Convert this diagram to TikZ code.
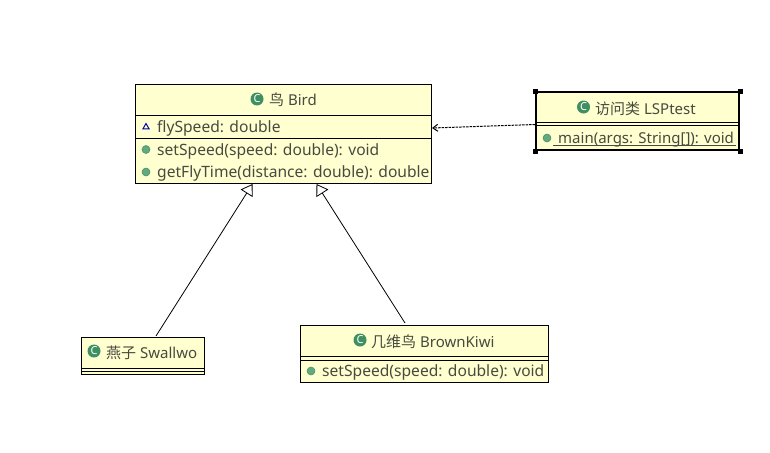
\documentclass[tikz,border=0pt]{standalone}
\usepackage{xcolor}
\usepackage{fontspec}
\setmainfont{Noto Sans}
\newfontfamily\cjk{Noto Sans CJK SC}
\usetikzlibrary{arrows.meta,shapes.geometric}
\definecolor{boxfill}{HTML}{FFFFD0}
\definecolor{textcol}{HTML}{474A3F}
\definecolor{iconcol}{HTML}{3F8F63}
\definecolor{dotcol}{HTML}{63A87E}
\tikzset{
  classbox/.style={draw, fill=boxfill, rectangle, inner sep=0pt, line width=1pt},
  titletext/.style={anchor=base west, inner sep=0pt, text=textcol, font=\fontsize{15}{17}\selectfont},
  membertext/.style={anchor=base west, inner sep=0pt, text=textcol, font=\fontsize{15.6}{17}\selectfont},
  classicon/.style={circle, fill=iconcol, inner sep=0pt, minimum size=13pt, text=white, font=\bfseries\fontsize{11}{11}\selectfont},
  methoddot/.style={circle, fill=dotcol, draw=iconcol, line width=0.5pt, inner sep=0pt, minimum size=8pt},
  fieldicon/.style={regular polygon, regular polygon sides=3, draw=blue!70!black, line width=1pt, inner sep=0pt, minimum size=7pt},
  handle/.style={fill=black, inner sep=0pt, minimum size=5pt},
  inherit/.style={-{Triangle[open, fill=white, length=11pt, width=14pt]}, line width=0.8pt},
  depend/.style={-{Straight Barb[length=5pt, width=7pt]}, dash pattern=on 2.5pt off 1pt, line width=1pt}
}
\begin{document}
\begin{tikzpicture}[x=1pt, y=-1pt]
    \useasboundingbox (0,0) rectangle (770,452);
    % class boxes
    \node[classbox, minimum width=296pt, minimum height=99pt] (bird) at (283.5,134) {};
    \node[classbox, minimum width=203pt, minimum height=58pt, line width=2pt] (lsptest) at (637.5,121) {};
    \node[classbox, minimum width=123pt, minimum height=37pt] (swallow) at (143,355.5) {};
    \node[classbox, minimum width=248pt, minimum height=57pt] (kiwi) at (424.5,354) {};
    % compartments
    \draw ([yshift=-31pt]bird.north west) -- ([yshift=-31pt]bird.north east);
    \draw ([yshift=-54pt]bird.north west) -- ([yshift=-54pt]bird.north east);
    \draw ([yshift=-31pt]lsptest.north west) -- ([yshift=-31pt]lsptest.north east);
    \draw ([yshift=-34.5pt]lsptest.north west) -- ([yshift=-34.5pt]lsptest.north east);
    \draw ([yshift=6.5pt]swallow.south west) -- ([yshift=6.5pt]swallow.south east);
    \draw ([yshift=3pt]swallow.south west) -- ([yshift=3pt]swallow.south east);
    \draw ([yshift=26.5pt]kiwi.south west) -- ([yshift=26.5pt]kiwi.south east);
    \draw ([yshift=23pt]kiwi.south west) -- ([yshift=23pt]kiwi.south east);
    % bird
    \node[classicon] (birdicon) at (257,99) {C};
    \node[titletext] (birdname) at (269,105.5) {{\cjk 鸟} Bird};
    \node[fieldicon] (flyicon) at (146,127) {};
    \node[membertext] (flyspeed) at (157,132) {flySpeed: double};
    \node[methoddot] (setdot) at (146,149.5) {};
    \node[membertext] (setspeed) at (157,155) {setSpeed(speed: double): void};
    \node[methoddot] (getdot) at (146,172) {};
    \node[membertext] (getfly) at (157,177.5) {getFlyTime(distance: double): double};
    % lsptest
    \node[classicon] (lspicon) at (583.5,107) {C};
    \node[titletext] (lspname) at (595,114) {{\cjk 访问类} LSPtest};
    \node[methoddot] (maindot) at (547,138) {};
    \node[titletext] (mainname) at (558,143) {main(args: String[]): void};
    \draw[textcol] (553,145.5) -- (736,145.5);
    \node[handle] (h1) at (lsptest.north west) {};
    \node[handle] (h2) at (lsptest.north east) {};
    \node[handle] (h3) at (lsptest.south west) {};
    \node[handle] (h4) at (lsptest.south east) {};
    % swallow
    \node[classicon] (swaicon) at (94,351) {C};
    \node[titletext] (swaname) at (106,358) {{\cjk 燕子} Swallwo};
    % kiwi
    \node[classicon] (kiwiicon) at (360,340) {C};
    \node[titletext] (kiwiname) at (371,347) {{\cjk 几维鸟} BrownKiwi};
    \node[methoddot] (kiwidot) at (311,371) {};
    \node[membertext] (kiwiset) at (322,376) {setSpeed(speed: double): void};
    % connectors
    \coordinate (swatop) at (156,336);
    \coordinate (kiwitop) at (405,323);
    \coordinate (birdleft) at (252.5,184);
    \coordinate (birdright) at (316.5,184);
    \coordinate (birdside) at (432,128);
    \coordinate (lspside) at (535,124.5);
    \draw[inherit] (swatop) -- (birdleft);
    \draw[inherit] (kiwitop) -- (birdright);
    \draw[depend] (lspside) -- (birdside);
  \end{tikzpicture}
\end{document}
